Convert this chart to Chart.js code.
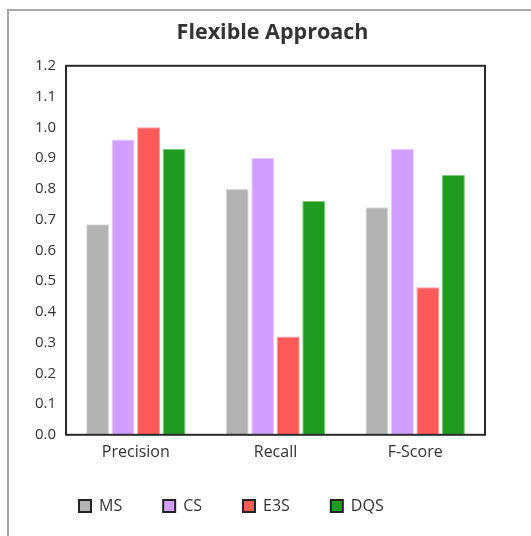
<!DOCTYPE html>
<html>
<head>
<meta charset="utf-8">
<script src="https://cdn.jsdelivr.net/npm/chart.js@4.4.1/dist/chart.umd.min.js"></script>
<style>
  html, body { margin: 0; padding: 0; background: #fff; }
  #wrap { position: relative; width: 531px; height: 536px; }
</style>
</head>
<body>
<div id="wrap"><canvas id="c" width="531" height="536"></canvas></div>
<script>
// Metrics on the x axis
const categories = ['Precision', 'Recall', 'F-Score'];

// Scores per method
const msScores  = [0.685, 0.80, 0.74];
const csScores  = [0.96, 0.90, 0.93];
const e3sScores = [1.00, 0.32, 0.48];
const dqsScores = [0.93, 0.76, 0.845];

const seriesNames = ['MS', 'CS', 'E3S', 'DQS'];
const fillColors   = ['#b3b3b3', '#d19fff', '#ff5a5a', '#1f9b1f'];
const borderColors = ['#dcdcdc', '#e6c9ff', '#ff9a9a', '#7fcb7f'];

const fontFamily = '"Open Sans", "Noto Sans", sans-serif';

// Grey frame along the top and left edges of the figure
const framePlugin = {
  id: 'frame',
  beforeDraw(chart) {
    const ctx = chart.ctx;
    ctx.save();
    ctx.strokeStyle = '#a6a6a6';
    ctx.lineWidth = 2;
    ctx.beginPath();
    ctx.moveTo(8, chart.height);
    ctx.lineTo(8, 10);
    ctx.lineTo(chart.width, 10);
    ctx.stroke();
    ctx.restore();
  }
};

// Dark box around the plotting area
const plotBoxPlugin = {
  id: 'plotBox',
  afterDatasetsDraw(chart) {
    const a = chart.chartArea;
    const ctx = chart.ctx;
    ctx.save();
    ctx.strokeStyle = '#2b2b2b';
    ctx.lineWidth = 2;
    ctx.strokeRect(a.left, a.top, a.right - a.left, a.bottom - a.top);
    ctx.restore();
  }
};

// Compact legend row under the axis, starting near the left frame;
// title centred over the figure
const placementPlugin = {
  id: 'placement',
  beforeLayout(chart) {
    const lg = chart.legend;
    if (lg && !lg.__compact) {
      const fit = lg.fit.bind(lg);
      lg.fit = function () { fit(); this.height = 66; };
      lg.__compact = true;
    }
  },
  afterLayout(chart) {
    const lg = chart.legend;
    if (lg) {
      const h = lg.bottom - lg.top;
      lg.left = 38;
      lg.top = 457;
      lg.bottom = lg.top + h;
    }
    const t = chart.titleBlock;
    if (t) {
      t.left = 14;
      t.right = chart.width;
    }
  }
};

const datasets = [msScores, csScores, e3sScores, dqsScores].map((values, i) => ({
  label: seriesNames[i],
  data: values,
  backgroundColor: fillColors[i],
  borderColor: borderColors[i],
  borderWidth: 1,
  barPercentage: 0.9,
  categoryPercentage: 0.73
}));

new Chart(document.getElementById('c'), {
  type: 'bar',
  data: { labels: categories, datasets },
  options: {
    responsive: false,
    animation: false,
    layout: { padding: { left: 8, right: 46, top: 10, bottom: 0 } },
    plugins: {
      title: {
        display: true,
        text: 'Flexible Approach',
        color: '#333',
        font: { family: fontFamily, size: 21.5, weight: 'bold' },
        padding: { top: 10, bottom: 20 }
      },
      legend: {
        position: 'bottom',
        align: 'start',
        labels: {
          color: '#333',
          font: { family: fontFamily, size: 16 },
          boxWidth: 12,
          boxHeight: 12,
          padding: 41,
          generateLabels(chart) {
            return chart.data.datasets.map((ds, i) => ({
              text: ds.label,
              fillStyle: ds.backgroundColor,
              strokeStyle: '#222',
              lineWidth: 2,
              fontColor: '#333',
              datasetIndex: i,
              hidden: false
            }));
          }
        }
      },
      tooltip: { enabled: false }
    },
    scales: {
      x: {
        grid: { display: false, drawTicks: false },
        border: { display: false },
        ticks: { color: '#333', font: { family: fontFamily, size: 16 }, padding: 8 }
      },
      y: {
        min: 0,
        max: 1.2,
        grid: { display: false, drawTicks: false },
        border: { display: false },
        afterFit(scale) { scale.width = 58; },
        ticks: {
          stepSize: 0.1,
          color: '#333',
          padding: 10,
          font: { family: fontFamily, size: 15 },
          callback: (v) => Number(v).toFixed(1)
        }
      }
    }
  },
  plugins: [framePlugin, plotBoxPlugin, placementPlugin]
});
</script>
</body>
</html>
